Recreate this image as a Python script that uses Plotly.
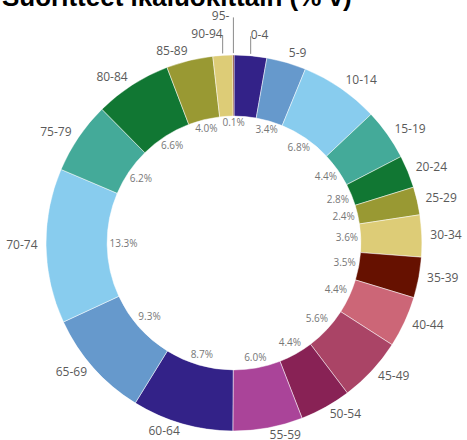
import math
import plotly.graph_objects as go

# ---- data ----
age_groups = ["0-4", "5-9", "10-14", "15-19", "20-24", "25-29", "30-34", "35-39",
              "40-44", "45-49", "50-54", "55-59", "60-64", "65-69", "70-74", "75-79",
              "80-84", "85-89", "90-94", "95-"]
shares = [2.8, 3.4, 6.8, 4.4, 2.8, 2.4, 3.6, 3.5, 4.4, 5.6, 4.4, 6.0,
          8.7, 9.3, 13.3, 6.2, 6.6, 4.0, 1.7, 0.1]
palette = ["#332288", "#6699cc", "#88ccee", "#44aa99", "#117733", "#999933",
           "#ddcc77", "#661100", "#cc6677", "#aa4466", "#882255", "#aa4499"]
hidden_pct = ["0-4", "90-94"]              # percentage labels not shown
raised = {"0-4": 1.10, "90-94": 1.105, "95-": 1.20}   # labels lifted with leader lines
label_nudge_px = {"95-": -4}                            # horizontal nudge of lifted labels

title_text = "Suoritteet ikäluokittain (% v)"

# ---- geometry (figure pixels) ----
W, H = 467, 440
CX, CY = 234, 243          # ring centre, from figure top-left
R = 188                    # outer radius in px
HOLE = 0.675

# ---- derived ----
total = sum(shares)
widths = [s / total * 360 for s in shares]
mids = []
acc = 0.0
for w in widths:
    mids.append(acc + w / 2)
    acc += w
colors = [palette[i % len(palette)] for i in range(len(age_groups))]


def xy(r, deg):
    a = math.radians(deg)
    return r * math.sin(a), r * math.cos(a)


fig = go.Figure()

# ring
fig.add_trace(go.Barpolar(
    r=[1 - HOLE] * len(shares), base=[HOLE] * len(shares),
    theta=mids, width=widths,
    marker=dict(color=colors, line=dict(color="white", width=0.5)),
    hoverinfo="skip", showlegend=False,
))

# percentage labels inside the hole
px_, py_, ptxt = [], [], []
for g, s, m in zip(age_groups, shares, mids):
    if g in hidden_pct:
        continue
    txt = f"{s:.1f}%"
    hw = len(txt) * 2.7
    a = math.radians(m)
    ext = abs(math.sin(a)) * hw + abs(math.cos(a)) * 4.5
    x, y = xy((124 - ext) / R, m)
    px_.append(x)
    py_.append(y)
    ptxt.append(txt)
fig.add_trace(go.Scatter(
    x=px_, y=py_, text=ptxt, mode="text", cliponaxis=False,
    textposition="middle center",
    textfont=dict(family="Open Sans", size=10, color="#777777"),
    hoverinfo="skip", showlegend=False,
))

# outer category labels
lx, ly, ltxt, lpos = [], [], [], []
for g, m in zip(age_groups, mids):
    a = math.radians(m)
    side = "middle right" if math.sin(a) > 0 else "middle left"
    if g in raised:
        x0, y0 = xy(1.01, m)
        y1 = raised[g]
        fig.add_trace(go.Scatter(
            x=[x0, x0], y=[y0, y1], mode="lines",
            line=dict(color="#8a8a8a", width=1), cliponaxis=False,
            hoverinfo="skip", showlegend=False,
        ))
        lx.append(x0 + label_nudge_px.get(g, 0) / R)
        ly.append(y1)
    else:
        x, y = xy(1.045, m)
        lx.append(x)
        ly.append(y)
    ltxt.append(g)
    lpos.append(side)
fig.add_trace(go.Scatter(
    x=lx, y=ly, text=ltxt, mode="text", cliponaxis=False,
    textposition=lpos,
    textfont=dict(family="Open Sans", size=12, color="#5a5a5a"),
    hoverinfo="skip", showlegend=False,
))

fig.add_annotation(
    text="<b>" + title_text + "</b>", xref="paper", yref="paper",
    x=0, xanchor="left", y=1 + 3 / H, yanchor="middle", showarrow=False,
    font=dict(family="Liberation Sans", size=26, color="black"),
)

fig.update_layout(
    width=W, height=H,
    margin=dict(l=0, r=0, t=0, b=0),
    paper_bgcolor="white", plot_bgcolor="rgba(0,0,0,0)",
    polar=dict(
        domain=dict(x=[(CX - R) / W, (CX + R) / W],
                    y=[(H - CY - R) / H, (H - CY + R) / H]),
        bgcolor="rgba(0,0,0,0)", bargap=0, hole=0,
        radialaxis=dict(visible=False, range=[0, 1]),
        angularaxis=dict(visible=False, rotation=90, direction="clockwise"),
    ),
    xaxis=dict(visible=False, domain=[0, 1], range=[-CX / R, (W - CX) / R], fixedrange=True),
    yaxis=dict(visible=False, domain=[0, 1], range=[-(H - CY) / R, CY / R], fixedrange=True),
    showlegend=False,
)

fig.write_html(
    "out.html",
    config={"displayModeBar": False},
    post_script="document.body.style.margin='0';document.body.style.overflow='hidden';",
)
